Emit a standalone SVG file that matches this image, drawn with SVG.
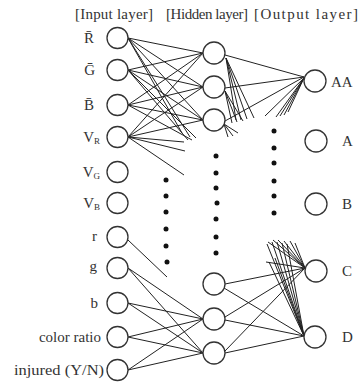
<svg xmlns="http://www.w3.org/2000/svg" width="361" height="383" viewBox="0 0 361 383">
<style>
.n{fill:#fff;stroke:#333;stroke-width:1.3}
.c line{stroke:#222;stroke-width:1}
.t{font-family:"Liberation Serif","Times New Roman",serif;font-size:15px;fill:#333}
.s{font-size:9px}
.d{fill:#111}
</style>
<rect width="361" height="383" fill="#fff"/>
<g id="headers" class="t">
<text x="75" y="19" textLength="78" lengthAdjust="spacing">[Input layer]</text>
<text x="166" y="19" textLength="82" lengthAdjust="spacing">[Hidden layer]</text>
<text x="254" y="19" textLength="104" lengthAdjust="spacing">[Output layer]</text>
</g>
<g class="c" id="connectors">
<line x1="128" y1="38" x2="203" y2="53"/><line x1="128" y1="38" x2="203" y2="87"/><line x1="128" y1="38" x2="203" y2="120"/>
<line x1="128" y1="70" x2="203" y2="53"/><line x1="128" y1="70" x2="203" y2="87"/><line x1="128" y1="70" x2="203" y2="120"/>
<line x1="128" y1="105" x2="203" y2="53"/><line x1="128" y1="105" x2="203" y2="87"/><line x1="128" y1="105" x2="203" y2="120"/>
<line x1="128" y1="137" x2="203" y2="53"/><line x1="128" y1="137" x2="203" y2="87"/><line x1="128" y1="137" x2="203" y2="120"/>
<line x1="128" y1="38" x2="182" y2="133"/><line x1="128" y1="38" x2="190" y2="137"/>
<line x1="128" y1="70" x2="188" y2="140"/><line x1="128" y1="70" x2="196" y2="138"/>
<line x1="128" y1="105" x2="192" y2="140"/>
<line x1="128" y1="137" x2="184" y2="142"/><line x1="128" y1="137" x2="185" y2="151"/><line x1="128" y1="137" x2="184" y2="175"/>
<line x1="128" y1="240" x2="167" y2="277"/>
<line x1="128" y1="268" x2="203" y2="319"/><line x1="128" y1="268" x2="203" y2="353"/>
<line x1="128" y1="303" x2="203" y2="319"/><line x1="128" y1="303" x2="203" y2="353"/>
<line x1="128" y1="337" x2="203" y2="319"/><line x1="128" y1="337" x2="203" y2="353"/>
<line x1="128" y1="370" x2="203" y2="319"/><line x1="128" y1="370" x2="203" y2="353"/>
<line x1="225" y1="55" x2="304" y2="77"/><line x1="225" y1="88" x2="304" y2="77"/><line x1="225" y1="121" x2="304" y2="77"/>
<line x1="226" y1="58" x2="236" y2="120"/><line x1="226" y1="58" x2="241" y2="120"/><line x1="226" y1="58" x2="247" y2="119"/><line x1="226" y1="58" x2="254" y2="118"/>
<line x1="225" y1="91" x2="232" y2="123"/><line x1="225" y1="91" x2="237" y2="122"/><line x1="225" y1="91" x2="243" y2="121"/>
<line x1="224" y1="124" x2="228" y2="137"/><line x1="224" y1="124" x2="233" y2="136"/><line x1="224" y1="124" x2="238" y2="133"/>
<line x1="304" y1="78" x2="265" y2="116"/><line x1="304" y1="78" x2="276" y2="117"/><line x1="304" y1="78" x2="280" y2="116"/><line x1="304" y1="78" x2="284" y2="115"/><line x1="304" y1="78" x2="288" y2="112"/>
<line x1="305" y1="268" x2="268" y2="242"/><line x1="305" y1="268" x2="273" y2="240"/><line x1="305" y1="268" x2="278" y2="240"/><line x1="305" y1="268" x2="284" y2="241"/><line x1="305" y1="268" x2="290" y2="241"/><line x1="305" y1="268" x2="295" y2="243"/><line x1="305" y1="268" x2="266" y2="262"/>
<line x1="304" y1="336" x2="267" y2="244"/><line x1="304" y1="336" x2="272" y2="242"/><line x1="304" y1="336" x2="277" y2="242"/><line x1="304" y1="336" x2="282" y2="243"/><line x1="304" y1="336" x2="287" y2="244"/><line x1="304" y1="336" x2="269" y2="262"/><line x1="304" y1="336" x2="275" y2="258"/>
<line x1="225" y1="284" x2="305" y2="268"/><line x1="224" y1="288" x2="304" y2="336"/>
<line x1="225" y1="317" x2="305" y2="268"/><line x1="225" y1="320" x2="304" y2="336"/>
<line x1="225" y1="351" x2="305" y2="268"/><line x1="225" y1="353" x2="304" y2="336"/>
</g>
<g id="dots" class="d">
<circle cx="166" cy="180" r="2.5"/><circle cx="166" cy="196" r="2.5"/><circle cx="166" cy="212" r="2.5"/><circle cx="166" cy="229" r="2.5"/><circle cx="166" cy="246" r="2.5"/><circle cx="167" cy="262" r="2.5"/>
<circle cx="216" cy="156" r="2.5"/><circle cx="216" cy="173" r="2.5"/><circle cx="216" cy="188" r="2.5"/><circle cx="217" cy="203" r="2.5"/><circle cx="216" cy="219" r="2.5"/><circle cx="216" cy="237" r="2.5"/><circle cx="216" cy="253" r="2.5"/>
<circle cx="274" cy="131" r="2.5"/><circle cx="274" cy="148" r="2.5"/><circle cx="274" cy="163" r="2.5"/><circle cx="274" cy="181" r="2.5"/><circle cx="274" cy="196" r="2.5"/><circle cx="274" cy="213" r="2.5"/>
</g>
<g id="in-R"><circle class="n" cx="117.5" cy="38" r="10.5"/><text class="t" x="94" y="43" text-anchor="end">R̄</text></g>
<g id="in-G"><circle class="n" cx="117.5" cy="70" r="10.5"/><text class="t" x="95" y="75" text-anchor="end">Ḡ</text></g>
<g id="in-B"><circle class="n" cx="117.5" cy="105" r="10.5"/><text class="t" x="94" y="110" text-anchor="end">B̄</text></g>
<g id="in-VR"><circle class="n" cx="117.5" cy="137" r="10.5"/><text class="t" x="100" y="142" text-anchor="end">V<tspan class="s" dy="2">R</tspan></text></g>
<g id="in-VG"><circle class="n" cx="117.5" cy="172" r="10.5"/><text class="t" x="100" y="177" text-anchor="end">V<tspan class="s" dy="2">G</tspan></text></g>
<g id="in-VB"><circle class="n" cx="117.5" cy="203" r="10.5"/><text class="t" x="100" y="208" text-anchor="end">V<tspan class="s" dy="2">B</tspan></text></g>
<g id="in-r"><circle class="n" cx="117.5" cy="237" r="10.5"/><text class="t" x="97" y="241" text-anchor="end">r</text></g>
<g id="in-g"><circle class="n" cx="117.5" cy="268" r="10.5"/><text class="t" x="97" y="271" text-anchor="end">g</text></g>
<g id="in-b"><circle class="n" cx="117.5" cy="303" r="10.5"/><text class="t" x="98" y="308" text-anchor="end">b</text></g>
<g id="in-cr"><circle class="n" cx="117.5" cy="337" r="10.5"/><text class="t" x="101" y="342" text-anchor="end">color ratio</text></g>
<g id="in-inj"><circle class="n" cx="117.5" cy="370" r="10.5"/><text class="t" x="104" y="375" text-anchor="end" textLength="90" lengthAdjust="spacingAndGlyphs">injured (Y/N)</text></g>
<g id="h1"><circle class="n" cx="214" cy="53" r="11"/></g>
<g id="h2"><circle class="n" cx="214" cy="87" r="11"/></g>
<g id="h3"><circle class="n" cx="214" cy="120" r="11"/></g>
<g id="h4"><circle class="n" cx="214" cy="284" r="11"/></g>
<g id="h5"><circle class="n" cx="214" cy="319" r="11"/></g>
<g id="h6"><circle class="n" cx="214" cy="353" r="11"/></g>
<g id="out-AA"><circle class="n" cx="315" cy="81" r="11"/><text class="t" x="331" y="87">AA</text></g>
<g id="out-A"><circle class="n" cx="316" cy="141" r="11"/><text class="t" x="342" y="146">A</text></g>
<g id="out-B"><circle class="n" cx="316" cy="204" r="11"/><text class="t" x="342" y="209">B</text></g>
<g id="out-C"><circle class="n" cx="316" cy="271" r="11"/><text class="t" x="342" y="276">C</text></g>
<g id="out-D"><circle class="n" cx="315" cy="337" r="11"/><text class="t" x="342" y="342">D</text></g>
</svg>
